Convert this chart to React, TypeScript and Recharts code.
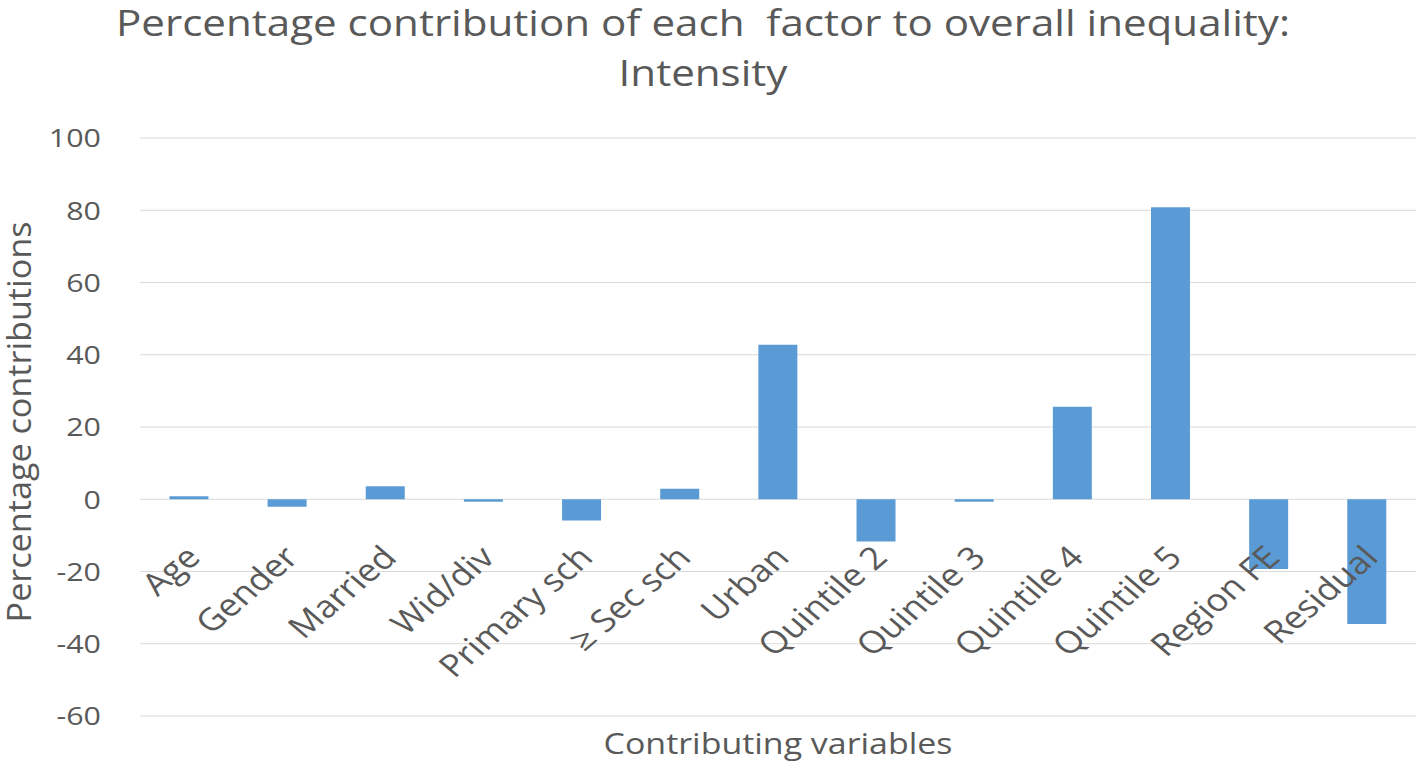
import React from "react";
import { BarChart, Bar, XAxis, YAxis, CartesianGrid, Label } from "recharts";

const categories = [
  "Age",
  "Gender",
  "Married",
  "Wid/div",
  "Primary sch",
  "≥ Sec sch",
  "Urban",
  "Quintile 2",
  "Quintile 3",
  "Quintile 4",
  "Quintile 5",
  "Region FE",
  "Residual",
];
const contributions = [0.8, -2.1, 3.6, -0.7, -5.9, 2.9, 42.8, -11.7, -0.7, 25.6, 80.8, -19.3, -34.5];
const yTicks = [-60, -40, -20, 0, 20, 40, 60, 80, 100];
const titleLines = ["Percentage contribution of each  factor to overall inequality:", "Intensity"];
const yAxisTitle = "Percentage contributions";
const xAxisTitle = "Contributing variables";

const data = categories.map((name, i) => ({ name, value: contributions[i] }));

const W = 1418;
const H = 765;
const TOP = 138;
const BOTTOM = 716;
const LEFT = 140;
const Y_MIN = -60;
const Y_MAX = 100;
const ZERO_Y = TOP + ((Y_MAX - 0) / (Y_MAX - Y_MIN)) * (BOTTOM - TOP);
const FONT = "'Open Sans', sans-serif";
const TEXT = "#595959";
const SX = 1.17;

const CatTick = (props: any) => {
  const { x, payload } = props;
  return (
    <g transform={`translate(${x + 13},${ZERO_Y + 60}) scale(${SX},1) rotate(-45)`}>
      <text x={0} y={0} textAnchor="end" fill={TEXT} fontSize={31} fontFamily={FONT}>
        {payload.value}
      </text>
    </g>
  );
};

const ValTick = (props: any) => {
  const { y, payload } = props;
  return (
    <g transform={`translate(${101},${y}) scale(${SX},1)`}>
      <text x={0} y={0} dy="0.36em" textAnchor="end" fill={TEXT} fontSize={26} fontFamily={FONT}>
        {payload.value}
      </text>
    </g>
  );
};

export default function App() {
  return (
    <div style={{ position: "absolute", left: 0, top: 0, width: W, height: H, background: "#fff" }}>
      <svg width={W} height={110} style={{ position: "absolute", left: 0, top: 0 }}>
        <g transform={`translate(${703},${36}) scale(${SX},1)`}>
          <text textAnchor="middle" fill={TEXT} fontSize={36} fontFamily={FONT} style={{ whiteSpace: "pre" }}>
            {titleLines[0]}
          </text>
        </g>
        <g transform={`translate(${703},${86}) scale(${SX},1)`}>
          <text textAnchor="middle" fill={TEXT} fontSize={36} fontFamily={FONT}>
            {titleLines[1]}
          </text>
        </g>
      </svg>
      <div style={{ position: "absolute", left: 0, top: 0 }}>
        <BarChart
          width={W}
          height={H}
          data={data}
          margin={{ top: TOP, right: 2, bottom: 0, left: 0 }}
          barCategoryGap="30%"
        >
          <CartesianGrid vertical={false} stroke="#d9d9d9" strokeWidth={1} />
          <XAxis
            dataKey="name"
            axisLine={false}
            tickLine={false}
            interval={0}
            height={H - BOTTOM}
            tick={<CatTick />}
          >
            <Label
              content={() => (
                <g transform={`translate(${(LEFT + W - 2) / 2},${754}) scale(${SX},1)`}>
                  <text textAnchor="middle" fill={TEXT} fontSize={29} fontFamily={FONT}>
                    {xAxisTitle}
                  </text>
                </g>
              )}
            />
          </XAxis>
          <YAxis
            width={LEFT}
            domain={[Y_MIN, Y_MAX]}
            ticks={yTicks}
            interval={0}
            axisLine={false}
            tickLine={false}
            tick={<ValTick />}
          >
            <Label
              content={() => (
                <g transform={`translate(${31},${422}) scale(${SX},1) rotate(-90) scale(1.22,1)`}>
                  <text textAnchor="middle" fill={TEXT} fontSize={28} fontFamily={FONT}>
                    {yAxisTitle}
                  </text>
                </g>
              )}
            />
          </YAxis>
          <Bar dataKey="value" fill="#5B9BD5" isAnimationActive={false} />
        </BarChart>
      </div>
    </div>
  );
}
